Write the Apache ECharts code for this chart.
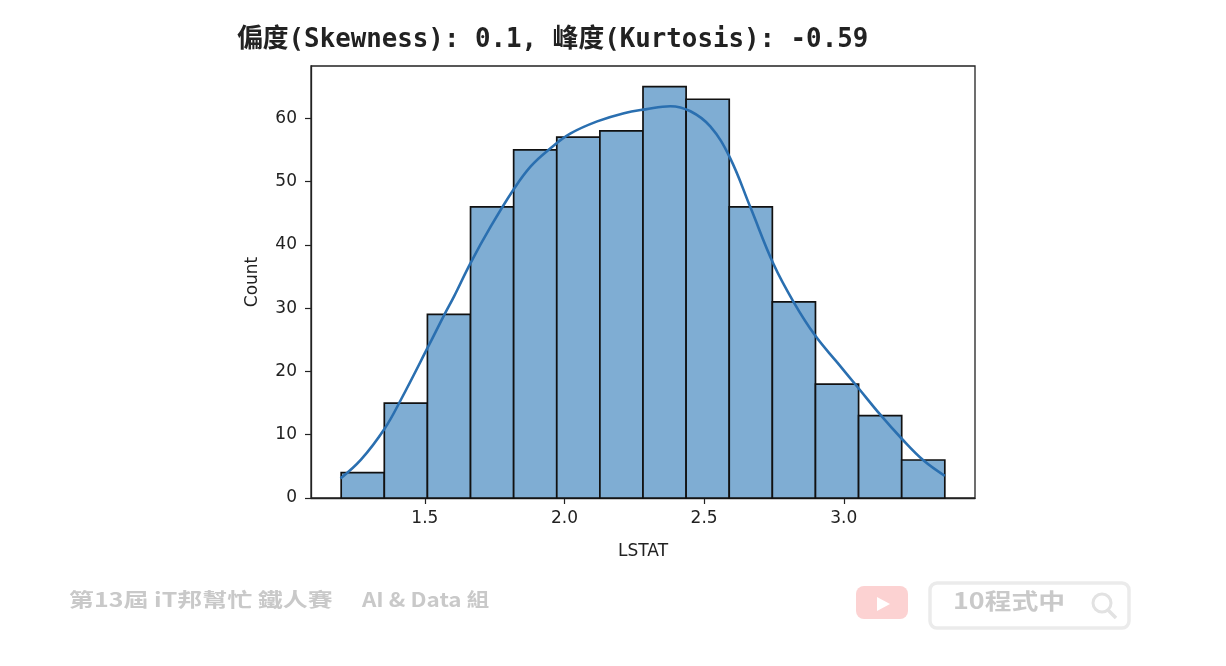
<!DOCTYPE html>
<html>
<head>
<meta charset="utf-8">
<script src="https://cdn.jsdelivr.net/npm/echarts@6/dist/echarts.min.js"></script>
<style>
  html, body { margin: 0; padding: 0; background: #fff; }
  #main { width: 1226px; height: 666px; }
</style>
</head>
<body>
<div id="main"></div>
<script>
// histogram of cube-root LSTAT, 14 bins
var binMin = 1.2003;
var binMax = 3.3619;
var counts = [4, 15, 29, 46, 55, 57, 58, 65, 63, 46, 31, 18, 13, 6];

// kde curve
var kdeX = [1.198, 1.272, 1.355, 1.415, 1.514, 1.569, 1.605, 1.662, 1.736, 1.817, 1.879, 1.951, 2.022,
            2.117, 2.213, 2.290, 2.379, 2.451, 2.522, 2.591, 2.665, 2.748, 2.820, 2.897, 2.975, 3.050,
            3.130, 3.207, 3.284, 3.362];
var kdeY = [3.1, 6.1, 10.9, 15.6, 24.1, 28.9, 31.9, 37.0, 42.9, 48.7, 52.4, 55.3, 57.6,
            59.5, 60.8, 61.4, 61.9, 61.1, 58.7, 53.9, 46.0, 37.0, 31.0, 25.7, 21.5, 17.5,
            13.2, 9.4, 6.0, 3.5];

var xTicks = [1.5, 2.0, 2.5, 3.0];
var yTicks = [0, 10, 20, 30, 40, 50, 60];

var binW = (binMax - binMin) / counts.length;
var bins = [];
for (var i = 0; i < counts.length; i++) {
    bins.push([binMin + i * binW, binMin + (i + 1) * binW, counts[i]]);
}
var kde = [];
for (var k = 0; k < kdeX.length; k++) {
    kde.push([kdeX[k], kdeY[k]]);
}

var chart = echarts.init(document.getElementById('main'));
var tickFont = 'DejaVu Sans';
var wmGray = '#c9c9c9';

function wmText(txt, x, y, size, sx) {
    return {
        type: 'text', x: x, y: y, scaleX: sx,
        style: {
            text: txt, x: 0, y: 0, verticalAlign: 'top',
            fontFamily: 'Noto Sans CJK TC', fontWeight: 'bold', fontSize: size, fill: wmGray
        }
    };
}

var option = {
    animation: false,
    backgroundColor: '#fff',
    title: {
        text: '偏度(Skewness): 0.1, 峰度(Kurtosis): -0.59',
        left: 232,
        top: 22,
        textStyle: {
            fontFamily: "'DejaVu Sans Mono', 'Noto Sans CJK TC'",
            fontSize: 25.8,
            fontWeight: 'bold',
            color: '#222'
        }
    },
    grid: {
        left: 311, right: 251, top: 66, bottom: 168,
        show: true, borderColor: '#222', borderWidth: 1.3
    },
    xAxis: {
        type: 'value',
        min: 1.0922,
        max: 3.47,
        name: 'LSTAT',
        nameLocation: 'middle',
        nameGap: 45,
        nameTextStyle: { fontFamily: tickFont, fontSize: 17, color: '#222' },
        splitLine: { show: false },
        axisLine: { show: true, onZero: false, lineStyle: { color: '#222', width: 1.3 } },
        axisTick: { show: true, length: 6, customValues: xTicks, lineStyle: { color: '#222', width: 1.2 } },
        axisLabel: {
            customValues: xTicks, margin: 12,
            fontFamily: tickFont, fontSize: 17, color: '#222',
            formatter: function (v) { return v.toFixed(1); }
        }
    },
    yAxis: {
        type: 'value',
        min: 0,
        max: 68.25,
        name: 'Count',
        nameLocation: 'middle',
        nameGap: 50,
        nameTextStyle: { fontFamily: tickFont, fontSize: 17, color: '#222' },
        splitLine: { show: false },
        axisLine: { show: true, lineStyle: { color: '#222', width: 1.3 } },
        axisTick: { show: true, length: 6, customValues: yTicks, lineStyle: { color: '#222', width: 1.2 } },
        axisLabel: {
            customValues: yTicks, margin: 14,
            fontFamily: tickFont, fontSize: 17, color: '#222'
        }
    },
    series: [
        {
            type: 'custom',
            data: bins,
            renderItem: function (params, api) {
                var p0 = api.coord([api.value(0), 0]);
                var p1 = api.coord([api.value(1), api.value(2)]);
                return {
                    type: 'rect',
                    shape: { x: p0[0], y: p1[1], width: p1[0] - p0[0], height: p0[1] - p1[1] },
                    style: { fill: '#7fadd3', stroke: '#111', lineWidth: 1.7 }
                };
            },
            z: 2
        },
        {
            type: 'line',
            data: kde,
            smooth: 0.4,
            symbol: 'none',
            lineStyle: { color: '#2a6fb0', width: 2.6 },
            z: 3
        }
    ],
    graphic: [
        wmText('第13屆 iT邦幫忙 鐵人賽', 69, 590, 19.5, 1.28),
        wmText('AI & Data 組', 362, 590, 19.5, 1.15),
        {
            type: 'rect',
            shape: { x: 856, y: 586, width: 52, height: 33, r: 8 },
            style: { fill: '#fcd2d2' }
        },
        {
            type: 'polygon',
            shape: { points: [[877, 597], [890, 604], [877, 611]] },
            style: { fill: '#fff' }
        },
        {
            type: 'rect',
            shape: { x: 930, y: 583, width: 199, height: 45, r: 7 },
            style: { fill: 'none', stroke: '#ebebeb', lineWidth: 3.5 }
        },
        wmText('10程式中', 953, 590, 22, 1.22),
        {
            type: 'circle',
            shape: { cx: 1102, cy: 603, r: 9 },
            style: { fill: 'none', stroke: '#e2e2e2', lineWidth: 3 }
        },
        {
            type: 'line',
            shape: { x1: 1108, y1: 610, x2: 1116, y2: 618 },
            style: { stroke: '#e2e2e2', lineWidth: 3.5 }
        }
    ]
};

chart.setOption(option);
</script>
</body>
</html>
